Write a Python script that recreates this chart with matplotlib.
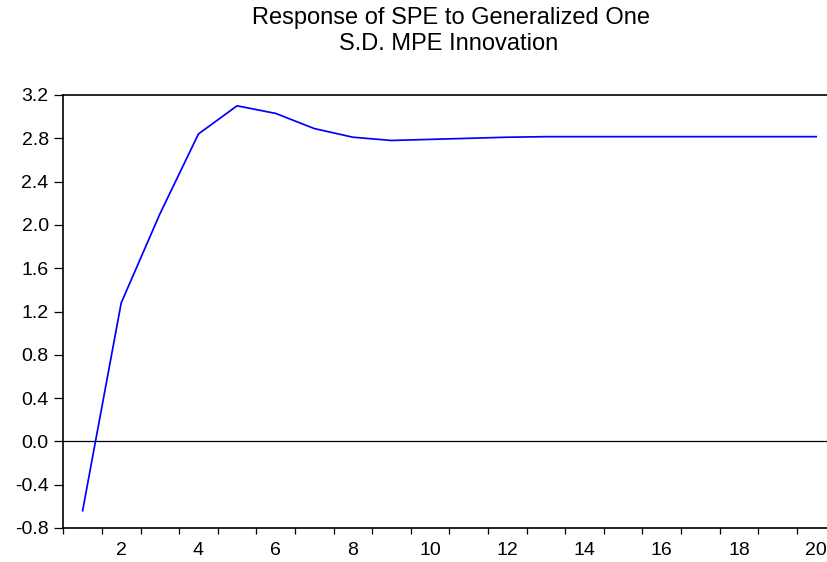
import matplotlib
matplotlib.use("Agg")
import matplotlib.pyplot as plt
import numpy as np
from matplotlib.ticker import FixedLocator

plt.rcParams['font.family'] = ['Liberation Sans', 'DejaVu Sans']

# Data
periods = list(range(1, 21))
response = [-0.64, 1.28, 2.10, 2.84, 3.10, 3.03, 2.89, 2.81, 2.78, 2.79,
            2.80, 2.81, 2.815, 2.815, 2.815, 2.815, 2.815, 2.815, 2.815, 2.815]
y_ticks = [-0.8, -0.4, 0.0, 0.4, 0.8, 1.2, 1.6, 2.0, 2.4, 2.8, 3.2]
x_labels = [2, 4, 6, 8, 10, 12, 14, 16, 18, 20]
title_lines = ["Response of SPE to Generalized One", "S.D. MPE Innovation"]

W, H = 828, 562
fig = plt.figure(figsize=(W / 100, H / 100), dpi=100)
fig.patch.set_facecolor('white')

left_px, right_px, top_px, bottom_px = 63.3, 835.5, 95, 528
ax = fig.add_axes([left_px / W, 1 - bottom_px / H,
                   (right_px - left_px) / W, (bottom_px - top_px) / H])

ax.plot(periods, response, color='#0000ff', lw=1.25, zorder=3)
ax.axhline(0, color='black', lw=0.9, zorder=2)

ax.set_xlim(0.5, 20.5)
ax.set_ylim(-0.8, 3.2)

for s in ['left', 'bottom', 'top']:
    ax.spines[s].set_linewidth(1.2)
    ax.spines[s].set_color('black')
ax.spines['right'].set_visible(False)

ax.set_yticks(y_ticks)
ax.set_yticklabels([f"{v:.1f}" for v in y_ticks])
ax.tick_params(axis='y', direction='out', length=6.5, width=0.9, pad=4,
               labelsize=14, colors='black')

ax.set_xticks(x_labels)
ax.set_xticklabels([str(v) for v in x_labels])
ax.xaxis.set_minor_locator(FixedLocator(np.arange(0.5, 21, 1.0)))
ax.tick_params(axis='x', which='major', length=0, pad=10, labelsize=14)
ax.tick_params(axis='x', which='minor', direction='out', length=4, width=0.9)

fig.text(451 / W, 1 - 18 / H, title_lines[0], ha='center', va='center', fontsize=17)
fig.text(449 / W, 1 - 44 / H, title_lines[1], ha='center', va='center', fontsize=17)

fig.savefig('out.png', dpi=100)
